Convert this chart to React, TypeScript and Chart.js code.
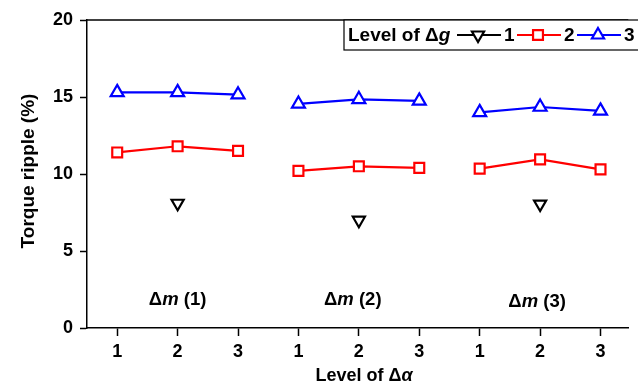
import React, { useEffect, useRef } from "react";
import { Chart, registerables } from "chart.js";

Chart.register(...registerables);

const alphaLevels = ["1", "2", "3"];
const groupLabels = ["m (1)", "m (2)", "m (3)"];
const groupLabelX = [2, 4.9, 7.95];
const groupLabelY = [1.8, 1.8, 1.7];
const seriesNames = ["1", "2", "3"];
const series1: (number | null)[] = [null, 8.1, null, null, 7.0, null, null, 8.05, null];
const series2: (number | null)[] = [11.4, 11.8, 11.5, 10.2, 10.5, 10.4, 10.35, 10.95, 10.3];
const series3: (number | null)[] = [15.3, 15.3, 15.15, 14.55, 14.85, 14.75, 14.0, 14.35, 14.1];
const yTicks = [0, 5, 10, 15, 20];

const FONT = "'Liberation Sans', Arial, sans-serif";

function toPoints(vals: (number | null)[]) {
  const pts: { x: number; y: number | null }[] = [];
  vals.forEach((v, i) => {
    pts.push({ x: i + 1, y: v });
    if ((i + 1) % 3 === 0 && i < vals.length - 1) pts.push({ x: i + 1.5, y: null });
  });
  return pts;
}

type Part = { t: string; italic?: boolean };
function drawRich(ctx: CanvasRenderingContext2D, parts: Part[], x: number, y: number, size: number, align: "left" | "center") {
  const fontOf = (p: Part) => `${p.italic ? "italic " : ""}bold ${size}px ${FONT}`;
  let total = 0;
  parts.forEach((p) => {
    ctx.font = fontOf(p);
    total += ctx.measureText(p.t).width;
  });
  let cx = align === "center" ? x - total / 2 : x;
  ctx.textAlign = "left";
  ctx.textBaseline = "middle";
  parts.forEach((p) => {
    ctx.font = fontOf(p);
    ctx.fillText(p.t, cx, y);
    cx += ctx.measureText(p.t).width;
  });
  return total;
}

const colors = ["#000000", "#ff0000", "#0000ff"];

function drawMarker(ctx: CanvasRenderingContext2D, style: string, x: number, y: number, r: number, rot: number, color: string) {
  ctx.save();
  ctx.translate(x, y);
  ctx.rotate((rot * Math.PI) / 180);
  ctx.beginPath();
  if (style === "rect") {
    const s = Math.SQRT1_2 * r;
    ctx.rect(-s, -s, 2 * s, 2 * s);
  } else {
    let a = 0;
    ctx.moveTo(Math.sin(a) * r, -Math.cos(a) * r);
    a += (2 * Math.PI) / 3;
    ctx.lineTo(Math.sin(a) * r, -Math.cos(a) * r);
    a += (2 * Math.PI) / 3;
    ctx.lineTo(Math.sin(a) * r, -Math.cos(a) * r);
    ctx.closePath();
  }
  ctx.fillStyle = "#fff";
  ctx.fill();
  ctx.strokeStyle = color;
  ctx.lineWidth = 2.2;
  ctx.stroke();
  ctx.restore();
}

const overlay = {
  id: "overlay",
  afterDraw(chart: any) {
    const ctx: CanvasRenderingContext2D = chart.ctx;
    const { left, right, top } = chart.chartArea;
    const xs = chart.scales.x;
    const ys = chart.scales.y;
    ctx.save();
    ctx.fillStyle = "#000";
    ctx.strokeStyle = "#000";
    ctx.lineWidth = 1.5;
    ctx.beginPath();
    ctx.moveTo(left, top);
    ctx.lineTo(right, top);
    ctx.stroke();
    groupLabels.forEach((g, i) => {
      drawRich(ctx, [{ t: "Δ" }, { t: "m", italic: true }, { t: g.slice(1) }], xs.getPixelForValue(groupLabelX[i]), ys.getPixelForValue(groupLabelY[i]), 18.5, "center");
    });
    drawRich(ctx, [{ t: "Level of Δ" }, { t: "α", italic: true }], 364, 376, 18, "center");
    ctx.save();
    ctx.translate(29, 171);
    ctx.rotate(-Math.PI / 2);
    drawRich(ctx, [{ t: "Torque ripple (%)" }], 0, 0, 19, "center");
    ctx.restore();
    // legend
    ctx.fillStyle = "#fff";
    ctx.fillRect(344, 20, 300, 30);
    ctx.lineWidth = 1.2;
    ctx.strokeStyle = "#000";
    ctx.strokeRect(344, 20, 300, 30);
    ctx.fillStyle = "#000";
    drawRich(ctx, [{ t: "Level of Δ" }, { t: "g", italic: true }], 348, 35.5, 19, "left");
    const starts = [457, 517, 577];
    seriesNames.forEach((n, i) => {
      const sx = starts[i];
      ctx.strokeStyle = colors[i];
      ctx.lineWidth = 2.2;
      ctx.beginPath();
      ctx.moveTo(sx, 35);
      ctx.lineTo(sx + 44, 35);
      ctx.stroke();
      drawMarker(ctx, i === 1 ? "rect" : "triangle", sx + 21, 35, 7, i === 0 ? 180 : 0, colors[i]);
      ctx.fillStyle = "#000";
      drawRich(ctx, [{ t: n }], sx + 47, 35.5, 19, "left");
    });
    ctx.restore();
  },
};

export default function App() {
  const ref = useRef<HTMLCanvasElement>(null);
  useEffect(() => {
    if (!ref.current) return;
    const chart = new Chart(ref.current, {
      type: "line",
      data: {
        datasets: [
          {
            label: seriesNames[0],
            data: toPoints(series1) as any,
            borderColor: colors[0],
            backgroundColor: "#fff",
            showLine: false,
            pointStyle: "triangle",
            pointRotation: 180,
            pointRadius: 7,
            pointBorderWidth: 2.2,
          },
          {
            label: seriesNames[1],
            data: toPoints(series2) as any,
            borderColor: colors[1],
            backgroundColor: "#fff",
            borderWidth: 2.2,
            pointStyle: "rect",
            pointRadius: 7,
            pointBorderWidth: 2.2,
            spanGaps: false,
          },
          {
            label: seriesNames[2],
            data: toPoints(series3) as any,
            borderColor: colors[2],
            backgroundColor: "#fff",
            borderWidth: 2.2,
            pointStyle: "triangle",
            pointRadius: 7.5,
            pointBorderWidth: 2.2,
            spanGaps: false,
          },
        ],
      },
      options: {
        responsive: false,
        animation: false,
        devicePixelRatio: 1,
        layout: { padding: { top: 20, right: 0, left: 0, bottom: 0 } },
        plugins: { legend: { display: false }, tooltip: { enabled: false } },
        scales: {
          x: {
            type: "linear",
            min: 0.5,
            max: 9.46,
            afterBuildTicks: (s: any) => {
              s.ticks = [1, 2, 3, 4, 5, 6, 7, 8, 9].map((v) => ({ value: v }));
            },
            afterFit: (s: any) => {
              s.height = 62;
            },
            ticks: {
              autoSkip: false,
              maxRotation: 0,
              color: "#000",
              padding: 5,
              font: { family: FONT, size: 18, weight: "bold" },
              callback: (v: any) => alphaLevels[(Number(v) - 1) % 3],
            },
            grid: { drawOnChartArea: false, drawTicks: true, tickLength: 8, tickColor: "#000", tickWidth: 1.5 },
            border: { display: true, color: "#000", width: 1.5 },
          },
          y: {
            min: 0,
            max: 20,
            afterBuildTicks: (s: any) => {
              s.ticks = yTicks.map((v) => ({ value: v }));
            },
            afterFit: (s: any) => {
              s.width = 87;
            },
            ticks: {
              color: "#000",
              padding: 7,
              font: { family: FONT, size: 18, weight: "bold" },
            },
            grid: { drawOnChartArea: false, drawTicks: true, tickLength: 7, tickColor: "#000", tickWidth: 1.5 },
            border: { display: true, color: "#000", width: 1.5 },
          },
        },
      } as any,
      plugins: [overlay],
    });
    return () => chart.destroy();
  }, []);
  return (
    <div style={{ position: "absolute", left: 0, top: 0, width: 638, height: 390, background: "#fff" }}>
      <canvas ref={ref} width={638} height={390} style={{ width: 638, height: 390 }} />
    </div>
  );
}
